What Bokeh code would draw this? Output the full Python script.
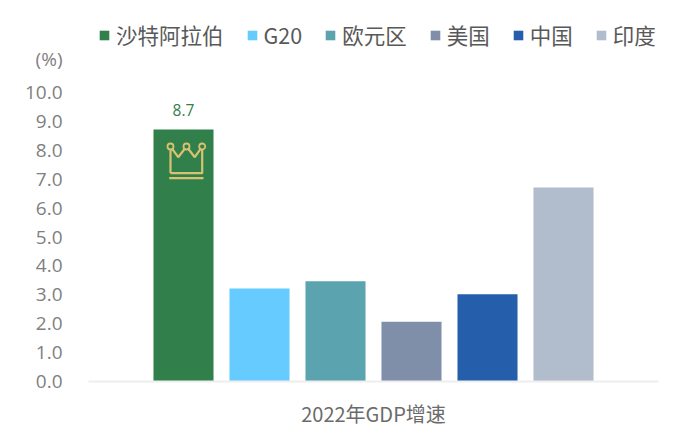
from bokeh.plotting import figure
from bokeh.models import (ColumnDataSource, Range1d, FixedTicker, Legend, LegendItem,
                          LabelSet, CustomJSTickFormatter)
from bokeh.core.properties import value
from bokeh.embed import file_html
from bokeh.resources import INLINE

names = ["沙特阿拉伯", "G20", "欧元区", "美国", "中国", "印度"]
growth = [8.7, 3.2, 3.45, 2.05, 3.0, 6.7]
colors = ["#31804B", "#66CCFF", "#5BA3AF", "#7F8FAA", "#255FAB", "#B1BCCC"]
y_ticks = [0, 1, 2, 3, 4, 5, 6, 7, 8, 9, 10]
unit_tick = 11.13
x_title = "2022年GDP增速"
unit = "(%)"
label_text = ["8.7"]

CJK = "Noto Sans CJK SC"
LAT = "Open Sans"
positions = list(range(len(names)))

p = figure(width=683, height=437, output_backend="svg", toolbar_location=None,
           x_range=Range1d(-1.25, 6.25), y_range=Range1d(-0.015, 13.165),
           min_border_left=88, min_border_right=25, min_border_top=0, min_border_bottom=56,
           outline_line_color=None, background_fill_color="white", border_fill_color="white")
p.grid.visible = False

src = ColumnDataSource(dict(x=positions, top=growth, color=colors, name=names))
bars = p.vbar(x="x", top="top", bottom=0, width=0.79, color="color", source=src, line_color=None)

# value label over the first bar
lab_src = ColumnDataSource(dict(x=positions[:1], y=growth[:1], t=label_text))
p.add_layout(LabelSet(x="x", y="y", text="t", source=lab_src, text_align="center", text_baseline="middle",
                      y_offset=20, text_color="#31804B", text_font=value(LAT), text_font_size="15.5px"))

# crown decoration, page pixels converted through the chart's own scale
def dx(px): return (px - 183) / 76
def dy(py): return (380.5 - py) / 28.9
gold = "#D9C172"
crown_x = [170, 170, 177.7, 186, 194.3, 201.7, 201.7, 170]
crown_y = [172.7, 146, 156.7, 146, 156.7, 146, 172.7, 172.7]
p.line([dx(v) for v in crown_x], [dy(v) for v in crown_y], line_color=gold, line_width=2.2)
p.line([dx(168.7), dx(203)], [dy(177.7), dy(177.7)], line_color=gold, line_width=2.2)
p.scatter([dx(170), dx(186), dx(201.7)], [dy(146)] * 3, marker="circle", size=6,
          fill_color="#31804B", line_color=gold, line_width=1.8)

# axes
ya = p.yaxis[0]
ya.ticker = FixedTicker(ticks=y_ticks + [unit_tick])
ya.formatter = CustomJSTickFormatter(args=dict(unit=unit, unit_tick=unit_tick),
                                     code="return tick === unit_tick ? unit : tick.toFixed(1);")
ya.axis_line_color = None
ya.major_tick_line_color = None
ya.minor_tick_line_color = None
ya.major_tick_out = 0
ya.major_label_standoff = 26
ya.major_label_text_font = LAT
ya.major_label_text_font_size = "19px"
ya.major_label_text_color = "#7F7F7F"

xa = p.xaxis[0]
xa.ticker = FixedTicker(ticks=[])
xa.axis_line_color = "#EEEEEE"
xa.axis_line_width = 2
xa.major_tick_line_color = None
xa.minor_tick_line_color = None
xa.axis_label = x_title
xa.axis_label_text_font = CJK
xa.axis_label_text_font_style = "normal"
xa.axis_label_text_font_size = "20px"
xa.axis_label_text_color = "#6B6B6B"
xa.axis_label_standoff = 17

items = [LegendItem(label=n, renderers=[bars], index=i) for i, n in enumerate(names)]
legend = Legend(items=items, orientation="horizontal", location=(10, 331), margin=0, padding=0,
                spacing=22, label_standoff=6, glyph_width=12, glyph_height=12, label_height=22,
                border_line_color=None, background_fill_alpha=0,
                label_text_font=CJK, label_text_font_size="21.5px", label_text_color="#595959")
p.add_layout(legend, "center")

open("out.html", "w").write(file_html(p, INLINE))
